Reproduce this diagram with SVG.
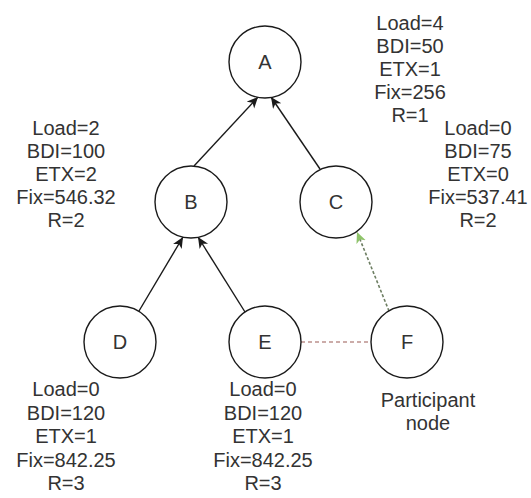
<svg xmlns="http://www.w3.org/2000/svg" width="531" height="498" viewBox="0 0 531 498">
<style>
.node circle{fill:#fff;stroke:#1a1a1a;stroke-width:1.4}
.lbl{font-family:"Liberation Sans",Arial,sans-serif;font-size:20px;fill:#333;text-anchor:middle}
.edge{stroke:#1a1a1a;stroke-width:1.4;fill:none}
</style>
<defs>
<marker id="arr" markerUnits="userSpaceOnUse" markerWidth="14" markerHeight="12" refX="11" refY="5" orient="auto">
<path d="M0,0 L11,5 L0,10 L3,5 Z" fill="#1a1a1a"/>
</marker>
<marker id="arrg" markerUnits="userSpaceOnUse" markerWidth="14" markerHeight="12" refX="11" refY="5" orient="auto">
<path d="M0,0 L11,5 L0,10 L3,5 Z" fill="#8fc46a"/>
</marker>
</defs>
<rect width="531" height="498" fill="#fff"/>
<g id="connectors">
<line class="edge" x1="194" y1="166" x2="258" y2="97" marker-end="url(#arr)"/>
<line class="edge" x1="320" y1="169" x2="271" y2="97" marker-end="url(#arr)"/>
<line class="edge" x1="139" y1="311" x2="183" y2="237" marker-end="url(#arr)"/>
<line class="edge" x1="245" y1="312" x2="198" y2="237" marker-end="url(#arr)"/>
<line x1="389" y1="311" x2="357" y2="232" stroke="#6e7f63" stroke-width="1.6" stroke-dasharray="3,2" marker-end="url(#arrg)"/>
<line x1="301" y1="342" x2="371" y2="342" stroke="#9a5a55" stroke-width="1.2" stroke-dasharray="4,3"/>
</g>
<g id="A" class="node"><circle cx="265" cy="62" r="36"/><text class="lbl" x="265" y="69">A</text></g>
<g id="B" class="node"><circle cx="191" cy="202" r="36"/><text class="lbl" x="191" y="209">B</text></g>
<g id="C" class="node"><circle cx="336" cy="202" r="36"/><text class="lbl" x="336" y="209">C</text></g>
<g id="D" class="node"><circle cx="120" cy="342" r="36"/><text class="lbl" x="120" y="349">D</text></g>
<g id="E" class="node"><circle cx="265" cy="342" r="36"/><text class="lbl" x="265" y="349">E</text></g>
<g id="F" class="node"><circle cx="407" cy="342" r="36"/><text class="lbl" x="407" y="349">F</text></g>
<g id="infoA" class="lbl">
<text class="lbl" x="410" y="30">Load=4</text>
<text class="lbl" x="410" y="53">BDI=50</text>
<text class="lbl" x="410" y="76">ETX=1</text>
<text class="lbl" x="410" y="99">Fix=256</text>
<text class="lbl" x="410" y="122">R=1</text>
</g>
<g id="infoB">
<text class="lbl" x="66" y="135">Load=2</text>
<text class="lbl" x="66" y="158">BDI=100</text>
<text class="lbl" x="66" y="181">ETX=2</text>
<text class="lbl" x="66" y="204">Fix=546.32</text>
<text class="lbl" x="66" y="227">R=2</text>
</g>
<g id="infoC">
<text class="lbl" x="478" y="135">Load=0</text>
<text class="lbl" x="478" y="158">BDI=75</text>
<text class="lbl" x="478" y="181">ETX=0</text>
<text class="lbl" x="478" y="204">Fix=537.41</text>
<text class="lbl" x="478" y="227">R=2</text>
</g>
<g id="infoD">
<text class="lbl" x="66" y="396">Load=0</text>
<text class="lbl" x="66" y="419.5">BDI=120</text>
<text class="lbl" x="66" y="443">ETX=1</text>
<text class="lbl" x="66" y="466.5">Fix=842.25</text>
<text class="lbl" x="66" y="490">R=3</text>
</g>
<g id="infoE">
<text class="lbl" x="263" y="396">Load=0</text>
<text class="lbl" x="263" y="419.5">BDI=120</text>
<text class="lbl" x="263" y="443">ETX=1</text>
<text class="lbl" x="263" y="466.5">Fix=842.25</text>
<text class="lbl" x="263" y="490">R=3</text>
</g>
<g id="infoF">
<text class="lbl" x="428" y="407">Participant</text>
<text class="lbl" x="428" y="430">node</text>
</g>
</svg>
